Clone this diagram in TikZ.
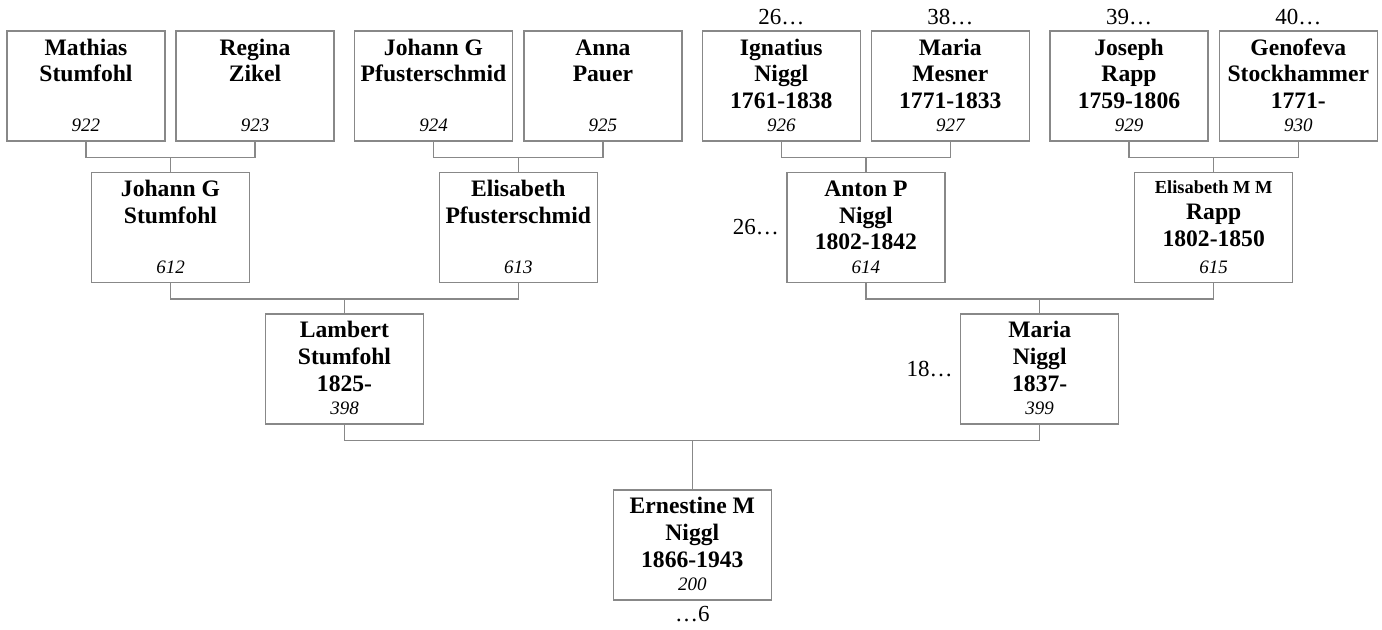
\documentclass[tikz,border=0pt]{standalone}
\usepackage{fontspec}
\setmainfont{Liberation Serif}
\usetikzlibrary{positioning}
\definecolor{frame}{HTML}{888888}
% one person: name lines at the top, number at the bottom
\newcommand{\card}[3][12pt]{\parbox[c][55pt][t]{79pt}{\centering\fontsize{11.8}{13.3}\selectfont\bfseries\rule{0pt}{#1}#2\par\vfill{\fontsize{9.5}{11}\selectfont\mdseries\itshape #3\par}\vspace*{4.5pt}}}

\begin{document}
\begin{tikzpicture}[
  x=0.5pt, y=-0.5pt,
  box/.style={draw=frame, line width=0.7pt, inner sep=0pt, align=center},
  link/.style={draw=frame, line width=0.7pt},
  note/.style={font=\fontsize{11.5}{13}\selectfont, inner sep=2.5pt}
]
  \useasboundingbox (0,0) rectangle (1382,629);

  % Great-grandparents
  \node[box] (p922) at (86,86) {\card{Mathias\\Stumfohl}{922}};
  \node[box] (p923) at (255,86) {\card{Regina\\Zikel}{923}};
  \node[box] (p924) at (433.5,86) {\card{Johann G\\Pfusterschmid}{924}};
  \node[box] (p925) at (602.9,86) {\card{Anna\\Pauer}{925}};
  \node[box] (p926) at (781.3,86) {\card{Ignatius\\Niggl\\1761-1838}{926}};
  \node[box] (p927) at (950.3,86) {\card{Maria\\Mesner\\1771-1833}{927}};
  \node[box] (p929) at (1129,86) {\card{Joseph\\Rapp\\1759-1806}{929}};
  \node[box] (p930) at (1298.3,86) {\card{Genofeva\\Stockhammer\\1771-}{930}};

  % Grandparents
  \node[box] (p612) at (170.5,227.5) {\card{Johann G\\Stumfohl}{612}};
  \node[box] (p613) at (518.3,227.5) {\card{Elisabeth\\Pfusterschmid}{613}};
  \node[box] (p614) at (865.9,227.5) {\card{Anton P\\Niggl\\1802-1842}{614}};
  \node[box] (p615) at (1213.7,227.5) {\card[10.3pt]{{\fontsize{9.2}{10}\selectfont Elisabeth M M}\\Rapp\\1802-1850}{615}};

  % Parents
  \node[box] (p398) at (344.5,368.9) {\card{Lambert\\Stumfohl\\1825-}{398}};
  \node[box] (p399) at (1039.7,368.9) {\card{Maria\\Niggl\\1837-}{399}};

  % Root
  \node[box] (p200) at (692.3,544.8) {\card{Ernestine M\\Niggl\\1866-1943}{200}};

  % Cross references
  \node[note, above=0pt of p926] (r926) {26…};
  \node[note, above=0pt of p927] (r927) {38…};
  \node[note, above=0pt of p929] (r929) {39…};
  \node[note, above=0pt of p930] (r930) {40…};
  \node[note, left=1pt of p614] (r614) {26…};
  \node[note, left=1pt of p399] (r399) {18…};
  \node[note, below=0pt of p200] (r200) {…6};

  % Links
  \draw[link] (p922.south) -- ++(0,15.7) -| (p612.north);
  \draw[link] (p923.south) -- ++(0,15.7) -| (p612.north);
  \draw[link] (p924.south) -- ++(0,15.7) -| (p613.north);
  \draw[link] (p925.south) -- ++(0,15.7) -| (p613.north);
  \draw[link] (p926.south) -- ++(0,15.7) -| (p614.north);
  \draw[link] (p927.south) -- ++(0,15.7) -| (p614.north);
  \draw[link] (p929.south) -- ++(0,15.7) -| (p615.north);
  \draw[link] (p930.south) -- ++(0,15.7) -| (p615.north);
  \draw[link] (p612.south) -- ++(0,15.7) -| (p398.north);
  \draw[link] (p613.south) -- ++(0,15.7) -| (p398.north);
  \draw[link] (p614.south) -- ++(0,15.7) -| (p399.north);
  \draw[link] (p615.south) -- ++(0,15.7) -| (p399.north);
  \draw[link] (p398.south) -- ++(0,16) -| (p200.north);
  \draw[link] (p399.south) -- ++(0,16) -| (p200.north);
\end{tikzpicture}
\end{document}
